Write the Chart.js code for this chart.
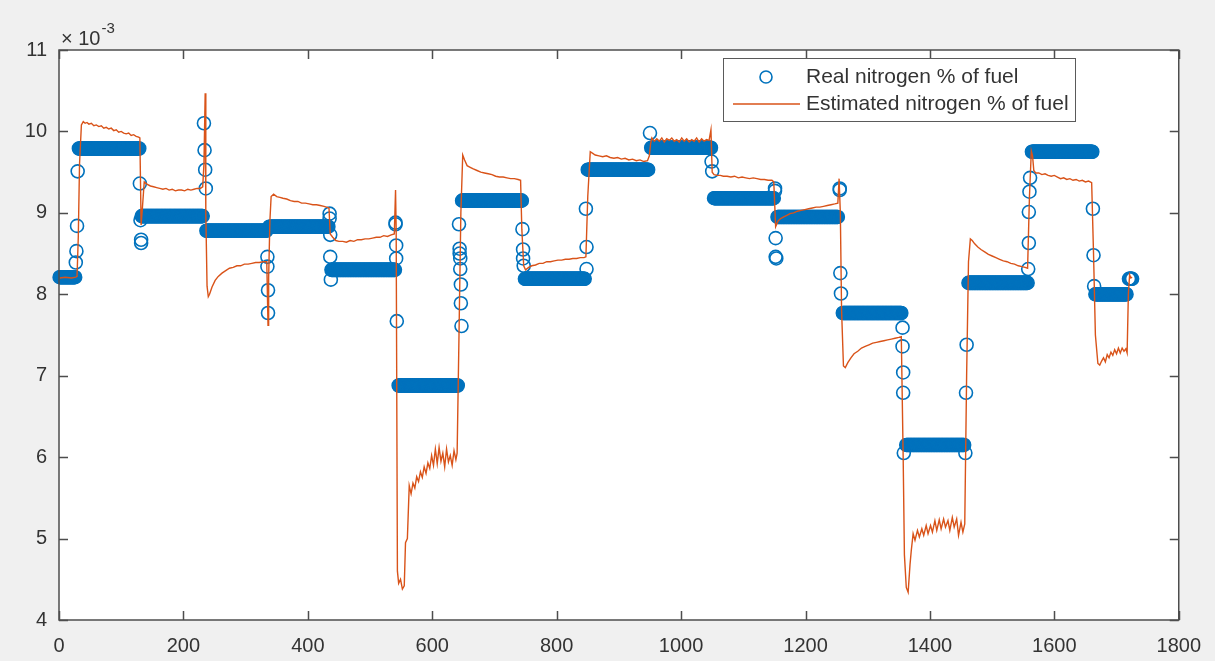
<!DOCTYPE html>
<html><head><meta charset="utf-8">
<script src="https://cdn.jsdelivr.net/npm/chart.js@4.4.0/dist/chart.umd.min.js"></script>
<style>html,body{margin:0;padding:0;background:#f0f0f0;}canvas{display:block;}</style>
</head><body>
<canvas id="c" width="1215" height="661" style="width:1215px;height:661px"></canvas>
<script>
// ---- Data (values in units of 1e-3) ----
const seriesNames = ['Real nitrogen % of fuel', 'Estimated nitrogen % of fuel'];
const xTicks = [0, 200, 400, 600, 800, 1000, 1200, 1400, 1600, 1800];
const yTicks = [4, 5, 6, 7, 8, 9, 10, 11];
const yExponent = '-3';

// Real series: piecewise-constant runs (sample index start, end, level)
const realRunStart = [1, 32, 133, 237, 338, 438, 546, 648, 749, 850, 952, 1053, 1155, 1260, 1362, 1462, 1564, 1666, 1720];
const realRunEnd   = [26, 129, 231, 333, 433, 540, 641, 744, 845, 947, 1048, 1149, 1252, 1354, 1455, 1557, 1661, 1716, 1725];
const realRunLevel = [8.21, 9.79, 8.96, 8.78, 8.83, 8.30, 6.88, 9.15, 8.19, 9.53, 9.80, 9.18, 8.95, 7.77, 6.15, 8.14, 9.75, 8.00, 8.19];

// Real series: isolated samples during the transitions
const transX = [27,28,29,30, 130,131,132,132, 233,234,235,236, 335,335,336,336, 435,435,436,436,437,
  541,541,542,542,543, 643,644,644,645,645,646,646,647, 745,746,746,747, 847,848,848, 950, 1049,1050,
  1151,1151,1152,1152,1153, 1255,1255,1256,1257, 1356,1356,1357,1357,1358, 1457,1458,1459,
  1558,1559,1559,1560,1561, 1662,1663,1664];
const transY = [8.39,8.53,8.84,9.51, 9.36,8.91,8.67,8.63, 10.10,9.77,9.53,9.30, 8.46,8.34,8.05,7.77, 8.99,8.93,8.73,8.46,8.18,
  8.88,8.86,8.60,8.44,7.67, 8.86,8.56,8.50,8.44,8.31,8.12,7.89,7.61, 8.80,8.55,8.44,8.35, 9.05,8.58,8.31, 9.98, 9.63,9.51,
  9.30,9.27,8.69,8.46,8.44, 9.30,9.28,8.26,8.01, 7.59,7.36,7.04,6.79,6.05, 6.05,6.79,7.38,
  8.31,8.63,9.01,9.26,9.43, 9.05,8.48,8.10];

// Estimated series
const estX = [
  1,10,20,27,29,
  31,33,36,39,42,45,48,52,56,60,64,68,72,76,80,84,88,92,96,100,104,108,112,116,120,124,128,130,
  132,134,137,142,147,152,157,162,167,172,177,182,187,192,197,202,207,212,217,222,227,231,
  233,235,236,238,240,242,246,251,256,262,268,274,280,286,292,298,304,310,316,322,328,334,
  336,337,339,341,345,350,355,360,366,372,378,384,390,396,402,408,414,420,426,430,434,
  436,440,445,450,456,462,468,474,480,486,492,498,504,510,516,522,528,534,539,
  541,542,544,546,549,552,555,557,560,563,566,569,572,575,578,581,584,587,590,593,596,599,602,605,608,611,614,617,620,623,626,629,632,635,638,640,
  643,646,649,652,656,661,666,672,678,684,690,696,702,708,714,720,726,732,738,742,
  744,747,750,755,760,766,772,778,784,790,796,802,808,814,820,826,832,838,844,847,
  850,854,858,862,868,874,880,886,892,898,904,910,916,922,928,934,940,946,
  949,951,953,957,961,965,969,973,977,981,985,989,993,997,1001,1005,1009,1013,1017,1021,1025,1029,1033,1037,1041,1045,1048,1050,
  1053,1058,1063,1068,1074,1080,1086,1092,1098,1104,1110,1116,1122,1128,1134,1140,1146,1149,
  1152,1156,1160,1165,1170,1175,1181,1187,1193,1199,1205,1211,1217,1223,1229,1235,1241,1247,1252,
  1254,1256,1258,1261,1264,1268,1273,1278,1284,1290,1296,1302,1308,1314,1320,1326,1332,1338,1344,1350,1354,
  1357,1359,1362,1365,1368,1370,1373,1376,1380,1383,1387,1390,1394,1397,1401,1404,1408,1411,1415,1418,1422,1425,1429,1432,1436,1439,1443,1446,1450,1453,1456,
  1459,1462,1465,1468,1472,1477,1482,1488,1494,1500,1506,1512,1518,1524,1530,1536,1542,1548,1553,1557,
  1560,1563,1565,1567,1570,1575,1580,1585,1590,1595,1600,1605,1610,1615,1620,1625,1630,1635,1640,1645,1650,1655,1660,
  1663,1666,1670,1673,1676,1679,1682,1685,1688,1691,1694,1697,1700,1703,1706,1709,1712,1715,1717,
  1719,1721,1723,1725
];
const estY = [
  8.20,8.21,8.20,8.21,8.22,
  8.70,9.60,10.08,10.12,10.10,10.11,10.09,10.10,10.07,10.08,10.06,10.07,10.04,10.05,10.03,10.04,10.01,10.02,9.99,10.00,9.98,9.97,9.98,9.95,9.96,9.94,9.93,9.92,
  8.85,9.05,9.38,9.35,9.33,9.32,9.31,9.30,9.29,9.30,9.28,9.29,9.27,9.28,9.28,9.27,9.29,9.28,9.29,9.30,9.30,9.32,
  9.60,10.47,9.00,8.10,7.97,8.00,8.09,8.17,8.22,8.26,8.29,8.32,8.33,8.35,8.35,8.37,8.37,8.38,8.39,8.39,8.40,8.40,
  7.62,8.20,8.90,9.20,9.23,9.20,9.19,9.18,9.17,9.15,9.14,9.14,9.12,9.12,9.11,9.10,9.10,9.09,9.08,9.07,9.06,
  8.74,8.70,8.66,8.65,8.65,8.64,8.66,8.65,8.67,8.67,8.68,8.68,8.69,8.70,8.70,8.72,8.71,8.73,8.74,
  9.28,8.80,4.60,4.45,4.50,4.38,4.42,4.95,5.00,5.65,5.55,5.68,5.62,5.76,5.70,5.82,5.75,5.88,5.80,5.93,5.86,6.02,5.90,6.10,5.92,6.12,5.95,6.05,5.88,6.10,5.94,6.02,5.90,6.08,5.97,6.05,
  7.50,9.00,9.71,9.65,9.58,9.56,9.54,9.52,9.50,9.49,9.48,9.47,9.45,9.44,9.44,9.43,9.42,9.42,9.41,9.40,
  8.80,8.35,8.30,8.33,8.35,8.36,8.38,8.38,8.40,8.40,8.41,8.42,8.42,8.43,8.43,8.44,8.44,8.45,8.45,8.46,
  9.20,9.75,9.73,9.71,9.70,9.69,9.70,9.68,9.67,9.68,9.66,9.67,9.65,9.66,9.64,9.65,9.63,9.64,
  9.70,9.85,9.92,9.88,9.91,9.88,9.92,9.87,9.91,9.89,9.92,9.88,9.90,9.87,9.92,9.88,9.91,9.87,9.90,9.88,9.92,9.87,9.91,9.88,9.90,9.89,10.02,9.50,
  9.47,9.46,9.46,9.45,9.45,9.44,9.45,9.43,9.44,9.43,9.42,9.43,9.42,9.41,9.41,9.40,9.40,9.38,
  8.83,8.90,8.93,8.95,8.97,8.99,9.00,9.02,9.03,9.04,9.05,9.06,9.07,9.07,9.08,9.09,9.10,9.11,9.12,
  9.42,9.00,7.80,7.12,7.10,7.16,7.22,7.27,7.30,7.34,7.36,7.38,7.40,7.41,7.42,7.43,7.44,7.45,7.46,7.47,7.48,
  6.00,4.80,4.40,4.34,4.68,4.85,5.06,4.98,5.10,5.02,5.12,5.04,5.16,5.06,5.16,5.08,5.22,5.10,5.23,5.12,5.24,5.14,5.22,5.10,5.26,5.14,5.24,5.04,5.20,5.08,5.18,
  7.00,8.40,8.68,8.66,8.62,8.58,8.55,8.52,8.49,8.47,8.45,8.43,8.41,8.40,8.38,8.37,8.35,8.34,8.33,8.32,
  9.20,9.76,9.70,9.52,9.49,9.49,9.47,9.48,9.46,9.45,9.46,9.44,9.42,9.43,9.41,9.42,9.40,9.41,9.39,9.40,9.38,9.39,9.37,
  8.50,7.50,7.15,7.13,7.18,7.22,7.17,7.26,7.22,7.29,7.25,7.32,7.27,7.34,7.28,7.34,7.30,7.33,7.28,
  8.00,8.24,8.20,8.21
];

// ---- Build tables for the library ----
const realPts = [];
for (let i = 0; i < realRunStart.length; i++) {
  for (let x = realRunStart[i]; x <= realRunEnd[i]; x++) realPts.push({x: x, y: realRunLevel[i]});
}
transX.forEach((x, i) => realPts.push({x: x, y: transY[i]}));
const estPts = estX.map((x, i) => ({x: x, y: estY[i]}));

const BLUE = '#0072BD', ORANGE = '#D95319', AXIS = '#4d4d4d', TEXT = '#333333';
const FONT = "'Liberation Sans', Arial, Helvetica, sans-serif";

const matlabFrame = {
  id: 'matlabFrame',
  beforeDraw(chart) {
    const {ctx, chartArea: a} = chart;
    ctx.save();
    ctx.fillStyle = '#f0f0f0';
    ctx.fillRect(0, 0, chart.width, chart.height);
    ctx.fillStyle = '#ffffff';
    ctx.fillRect(a.left, a.top, a.right - a.left, a.bottom - a.top);
    ctx.restore();
  },
  afterDatasetsDraw(chart) {
    const {ctx, chartArea: a, scales} = chart;
    ctx.save();
    ctx.strokeStyle = AXIS;
    ctx.lineWidth = 1.5;
    ctx.strokeRect(a.left, a.top, a.right - a.left, a.bottom - a.top);
    const L = 9;
    ctx.beginPath();
    xTicks.forEach(v => {
      const px = Math.round(scales.x.getPixelForValue(v)) + 0.5;
      ctx.moveTo(px, a.bottom); ctx.lineTo(px, a.bottom - L);
      ctx.moveTo(px, a.top); ctx.lineTo(px, a.top + L);
    });
    yTicks.forEach(v => {
      const py = Math.round(scales.y.getPixelForValue(v)) + 0.5;
      ctx.moveTo(a.left, py); ctx.lineTo(a.left + L, py);
      ctx.moveTo(a.right, py); ctx.lineTo(a.right - L, py);
    });
    ctx.stroke();
    ctx.restore();
  },
  afterDraw(chart) {
    const {ctx, chartArea: a} = chart;
    ctx.save();
    // exponent label
    ctx.fillStyle = TEXT;
    ctx.textBaseline = 'alphabetic';
    ctx.textAlign = 'left';
    ctx.font = '20px ' + FONT;
    const base = '\u00d7 10';
    ctx.fillText(base, a.left + 2, a.top - 5);
    const w = ctx.measureText(base).width;
    ctx.font = '15px ' + FONT;
    ctx.fillText(yExponent, a.left + 2 + w + 1, a.top - 17);
    // legend
    const bx = 723.5, by = 58.5, bw = 352, bh = 63;
    ctx.fillStyle = '#ffffff';
    ctx.fillRect(bx, by, bw, bh);
    ctx.strokeStyle = '#5a5a5a';
    ctx.lineWidth = 1;
    ctx.strokeRect(bx, by, bw, bh);
    ctx.strokeStyle = BLUE; ctx.lineWidth = 1.6;
    ctx.beginPath(); ctx.arc(766, 77, 6, 0, Math.PI * 2); ctx.stroke();
    ctx.strokeStyle = ORANGE; ctx.lineWidth = 1.4;
    ctx.beginPath(); ctx.moveTo(733, 104); ctx.lineTo(800, 104); ctx.stroke();
    ctx.fillStyle = TEXT;
    ctx.font = '21px ' + FONT;
    ctx.textBaseline = 'middle';
    ctx.fillText(seriesNames[0], 806, 77);
    ctx.fillText(seriesNames[1], 806, 104);
    ctx.restore();
  }
};

new Chart(document.getElementById('c'), {
  type: 'scatter',
  data: {
    datasets: [
      {
        label: seriesNames[0], data: realPts, order: 1, showLine: false, clip: false,
        pointStyle: 'circle', pointRadius: 6.5, pointBorderWidth: 1.6,
        pointBorderColor: BLUE, pointBackgroundColor: 'rgba(0,0,0,0)', pointHoverRadius: 6.5
      },
      {
        label: seriesNames[1], data: estPts, order: 0, showLine: true, clip: false,
        borderColor: ORANGE, borderWidth: 1.4, pointRadius: 0, pointHoverRadius: 0, tension: 0, fill: false
      }
    ]
  },
  options: {
    responsive: false, animation: false, events: [],
    layout: {padding: {top: 50, right: 34, left: 0, bottom: 0}},
    plugins: {legend: {display: false}, tooltip: {enabled: false}},
    scales: {
      x: {
        type: 'linear', min: 0, max: 1800,
        afterBuildTicks: s => { s.ticks = xTicks.map(v => ({value: v})); },
        ticks: {color: TEXT, font: {family: FONT, size: 20}, padding: 14, maxRotation: 0, autoSkip: false,
                callback: v => String(v)},
        grid: {display: false, drawTicks: false}, border: {display: false},
        afterFit: s => { s.height = 41; }
      },
      y: {
        type: 'linear', min: 4, max: 11,
        afterBuildTicks: s => { s.ticks = yTicks.map(v => ({value: v})); },
        ticks: {color: TEXT, font: {family: FONT, size: 20}, padding: 12, autoSkip: false,
                callback: v => String(v)},
        grid: {display: false, drawTicks: false}, border: {display: false},
        afterFit: s => { s.width = 59; }
      }
    }
  },
  plugins: [matlabFrame]
});
</script>
</body></html>
